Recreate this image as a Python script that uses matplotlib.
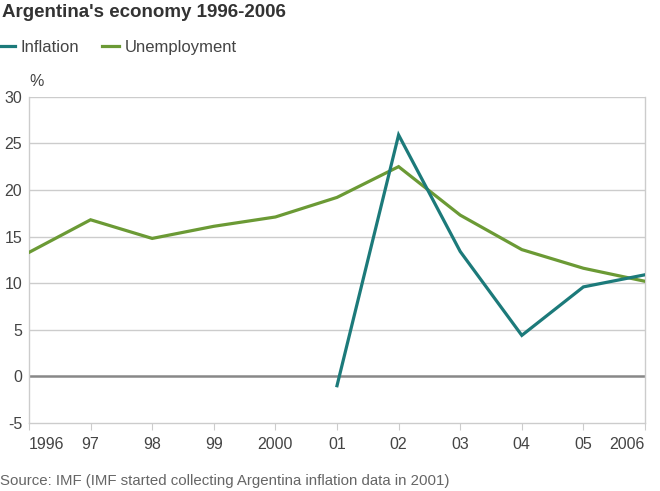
import matplotlib
matplotlib.use("Agg")
import matplotlib.pyplot as plt
from matplotlib.lines import Line2D

plt.rcParams['font.family'] = ['Liberation Sans', 'DejaVu Sans']

years = [1996, 1997, 1998, 1999, 2000, 2001, 2002, 2003, 2004, 2005, 2006]
year_labels = ["1996", "97", "98", "99", "2000", "01", "02", "03", "04", "05", "2006"]
unemployment = [13.3, 16.8, 14.8, 16.1, 17.1, 19.2, 22.5, 17.3, 13.6, 11.6, 10.2]
infl_years = [2001, 2002, 2003, 2004, 2005, 2006]
inflation = [-1.0, 25.9, 13.4, 4.4, 9.6, 10.9]
y_ticks = [-5, 0, 5, 10, 15, 20, 25, 30]

c_infl = "#1c7a7a"
c_unemp = "#6b9a35"

fig = plt.figure(figsize=(6.6, 4.91), dpi=100)
ax = fig.add_axes([0.0439, 0.1385, 0.9334, 0.6645])

for t in y_ticks:
    if t == 0:
        ax.axhline(t, color="#888888", lw=1.8, zorder=1)
    elif t != -5:
        ax.axhline(t, color="#cccccc", lw=1.0, zorder=1)

ax.plot(years, unemployment, color=c_unemp, lw=2.3, zorder=3, solid_joinstyle="miter")
ax.plot(infl_years, inflation, color=c_infl, lw=2.3, zorder=4, solid_joinstyle="miter")

ax.set_xlim(1996, 2006)
ax.set_ylim(-5, 30)
ax.set_xticks(years)
ax.set_xticklabels(year_labels)
ax.set_yticks(y_ticks)
ax.set_yticklabels([str(t) for t in y_ticks])

for s in ["left", "right", "bottom", "top"]:
    ax.spines[s].set_color("#cccccc")
    ax.spines[s].set_linewidth(1.0)
ax.spines["top"].set_visible(False)

ax.tick_params(axis="x", length=5, color="#cccccc", labelsize=11.5, labelcolor="#444444", pad=5)
ax.tick_params(axis="y", length=0, labelsize=11.5, labelcolor="#444444", pad=5)

# end labels sit inside the axis ends
xl = ax.get_xticklabels()
xl[0].set_horizontalalignment("left")
xl[0].set_x(1995.95)
xl[-1].set_horizontalalignment("right")

fig.text(0.003, 0.975, "Argentina's economy 1996-2006", fontsize=13.5, fontweight="bold",
         color="#333333", ha="left", va="center")
fig.text(0.045, 0.833, "%", fontsize=11.5, color="#444444", ha="left", va="center")

handles = [Line2D([], [], color=c_infl, lw=2.3), Line2D([], [], color=c_unemp, lw=2.3)]
fig.legend(handles, ["Inflation", "Unemployment"], loc="center left",
           bbox_to_anchor=(-0.026, 0.904), ncol=2, frameon=False, fontsize=12,
           handlelength=1.0, handletextpad=0.35, columnspacing=1.4, labelcolor="#444444")

fig.text(0.0, 0.02, "Source: IMF (IMF started collecting Argentina inflation data in 2001)",
         fontsize=10.8, color="#666666", ha="left", va="center")

fig.savefig("out.png", dpi=100)
